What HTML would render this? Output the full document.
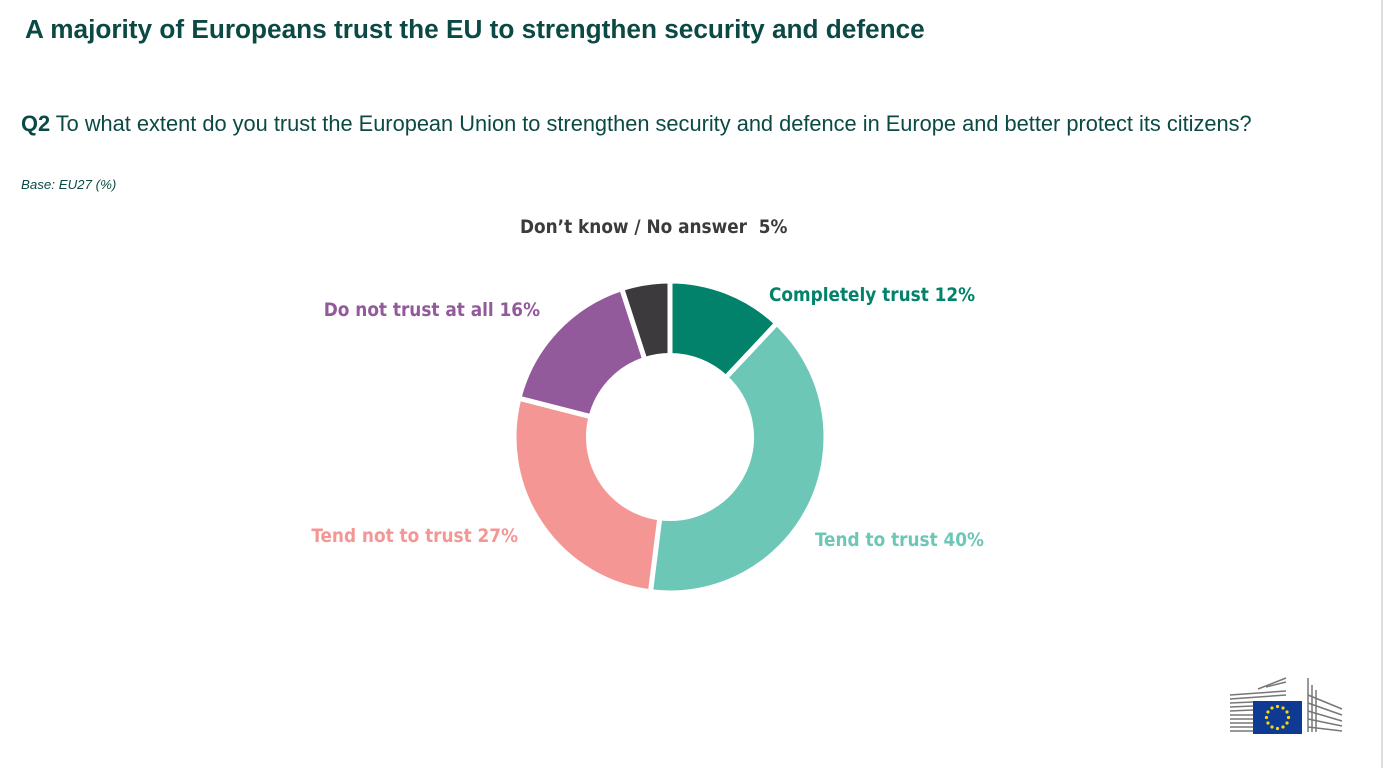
<!DOCTYPE html>
<html><head><meta charset="utf-8"><style>
body{margin:0;width:1386px;height:768px;background:#fff;position:relative;overflow:hidden;font-family:"Liberation Sans",sans-serif;}
.t{position:absolute;white-space:nowrap;}
</style></head><body>
<div class="t" style="left:25px;top:14px;font-size:26.2px;font-weight:bold;color:#0b4a44;">A majority of Europeans trust the EU to strengthen security and defence</div>
<div class="t" style="left:21px;top:111px;font-size:21.8px;color:#0b4a44;"><b>Q2</b> To what extent do you trust the European Union to strengthen security and defence in Europe and better protect its citizens?</div>
<div class="t" style="left:21px;top:177px;font-size:13.3px;font-style:italic;color:#0b4a44;">Base: EU27 (%)</div>
<div style="position:absolute;left:1381px;top:0;width:2px;height:768px;background:#ddd;"></div>
<svg id="chart" width="1386" height="768" style="position:absolute;left:0;top:0"></svg>
<svg width="120" height="70" style="position:absolute;left:1228px;top:675px">
<g stroke="#777" stroke-width="1.5">
<line x1="2" y1="20" x2="58" y2="16"/><line x1="2" y1="24" x2="58" y2="20"/><line x1="2" y1="28" x2="25" y2="27"/><line x1="2" y1="32" x2="25" y2="31"/><line x1="2" y1="36" x2="25" y2="35"/><line x1="2" y1="40" x2="25" y2="40"/><line x1="2" y1="44" x2="25" y2="44"/><line x1="2" y1="48" x2="25" y2="48"/><line x1="2" y1="52" x2="25" y2="52"/><line x1="2" y1="56" x2="25" y2="56"/>
<line x1="30" y1="14" x2="58" y2="3"/><line x1="38" y1="12" x2="58" y2="7"/>
<line x1="80" y1="3" x2="80" y2="57"/><line x1="84" y1="10" x2="84" y2="57"/><line x1="88" y1="15" x2="88" y2="57"/><line x1="80" y1="20" x2="114" y2="34"/><line x1="80" y1="28" x2="114" y2="40"/><line x1="80" y1="36" x2="114" y2="46"/><line x1="80" y1="44" x2="114" y2="51"/><line x1="80" y1="52" x2="114" y2="56"/>
</g>
<rect x="25" y="26" width="49" height="33" fill="#0e3a94"/>
<g fill="#f5d90a" id="stars"></g>
</svg>
<script>
const categories=["Completely trust","Tend to trust","Tend not to trust","Do not trust at all","Don’t know / No answer"];
const values=[12,40,27,16,5];
const colors=["#02826a","#6dc7b6","#f49794","#925a9b","#3c3a3d"];
const labelColors=["#02826a","#6dc7b6","#f49794","#925a9b","#3c3a3d"];
const svg=document.getElementById('chart');
const NS="http://www.w3.org/2000/svg";
const cx=670,cy=437,R=156,r=81.5;
const total=values.reduce((a,b)=>a+b,0);
function pt(a,rad){return [cx+rad*Math.sin(a),cy-rad*Math.cos(a)];}
let acc=0;
values.forEach((v,i)=>{
 const a0=acc/total*2*Math.PI, a1=(acc+v)/total*2*Math.PI; acc+=v;
 const large=(a1-a0)>Math.PI?1:0;
 const p0=pt(a0,R),p1=pt(a1,R),q1=pt(a1,r),q0=pt(a0,r);
 const p=document.createElementNS(NS,'path');
 p.setAttribute('d',`M${p0}A${R},${R} 0 ${large} 1 ${p1}L${q1}A${r},${r} 0 ${large} 0 ${q0}Z`);
 p.setAttribute('fill',colors[i]);p.setAttribute('stroke','#fff');p.setAttribute('stroke-width','5');
 
 
 svg.appendChild(p);
});
const labelPos=[[769,301,'start'],[815,546,'start'],[518,542,'end'],[540,316,'end'],[520,233,'start']];
values.forEach((v,i)=>{
 const t=document.createElementNS(NS,'text');
 t.setAttribute('x',labelPos[i][0]);t.setAttribute('y',labelPos[i][1]);t.setAttribute('text-anchor',labelPos[i][2]);
 t.setAttribute('font-size','18.8');t.setAttribute('font-weight','bold');t.setAttribute('fill',labelColors[i]);
 t.setAttribute('font-family','DejaVu Sans Condensed, Liberation Sans, sans-serif');
 t.textContent=categories[i]+(i===4?'\u00a0 ':' ')+v+'%';
 
 
 svg.appendChild(t);
});
const st=document.getElementById('stars');
for(let k=0;k<12;k++){const a=k/12*2*Math.PI;const c=document.createElementNS(NS,'circle');
c.setAttribute('cx',49.5+11*Math.sin(a));c.setAttribute('cy',42.5-11*Math.cos(a));c.setAttribute('r','1.6');


st.appendChild(c);}
</script>
</body></html>
